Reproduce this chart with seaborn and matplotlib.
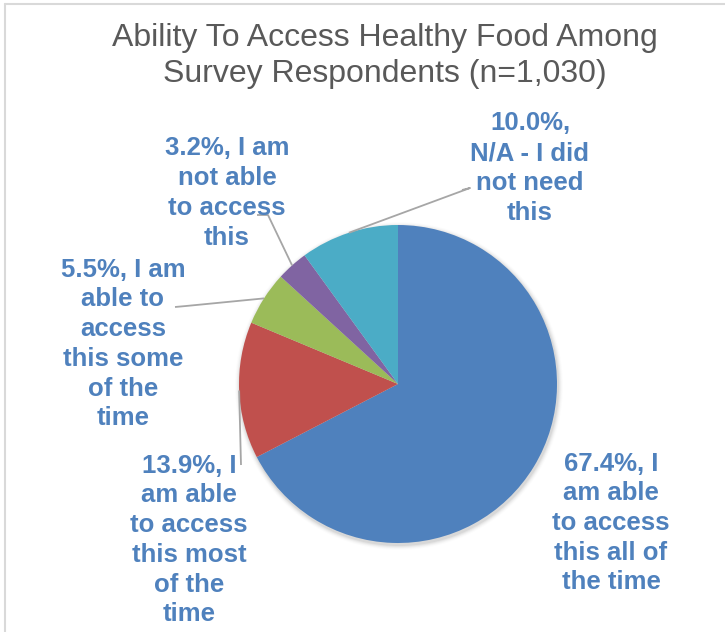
import numpy as np
import matplotlib
matplotlib.use("Agg")
import matplotlib.pyplot as plt
import seaborn as sns

# ---- data ----
categories = [
    "I am able to access this all of the time",
    "I am able to access this most of the time",
    "I am able to access this some of the time",
    "I am not able to access this",
    "N/A - I did not need this",
]
values = [67.4, 13.9, 5.5, 3.2, 10.0]
label_texts = [
    "67.4%, I\nam able\nto access\nthis all of\nthe time",
    "13.9%, I\nam able\nto access\nthis most\nof the\ntime",
    "5.5%, I am\nable to\naccess\nthis some\nof the\ntime",
    "3.2%, I am\nnot able\nto access\nthis",
    "10.0%,\nN/A - I did\nnot need\nthis",
]
title = "Ability To Access Healthy Food Among\nSurvey Respondents (n=1,030)"

# ---- style ----
sns.set_theme(style="white")
plt.rcParams["font.family"] = ["Liberation Sans", "DejaVu Sans"]
colors = ["#4F81BD", "#C0504D", "#9BBB59", "#8064A2", "#4BACC6"]
text_color = "#4F81BD"

W, H = 725, 632
fig = plt.figure(figsize=(W / 100, H / 100), dpi=100)
ax = fig.add_axes([0, 0, 1, 1])
ax.set_xlim(0, W)
ax.set_ylim(0, H)
ax.set_axis_off()

cx, cy, r = 398, H - 384, 159

# soft shadow
for i, a in enumerate(np.linspace(0.05, 0.01, 5)):
    ax.add_patch(plt.Circle((cx + 1, cy - 2), r + 1 + i, color="black", alpha=a, lw=0, zorder=1))

wedges, _ = ax.pie(values, colors=colors, startangle=90, counterclock=False,
                   center=(cx, cy), radius=r, frame=True,
                   wedgeprops=dict(linewidth=0, zorder=2))
ax.set_xlim(0, W)
ax.set_ylim(0, H)
ax.set_axis_off()

# label positions (pixel, from top)
label_pos = [(611, 523), (189, 540), (123, 344), (227, 193), (530, 168)]
for txt, (lx, ly) in zip(label_texts, label_pos):
    ax.text(lx, H - ly, txt, ha="center", va="center", color=text_color,
            fontsize=18.5, fontweight="bold", linespacing=1.3, zorder=5)

# leader lines: start at the wedge edge midpoints, end near labels
leader_ends = {
    1: [(241, 465)],
    2: [(186, 306), (175, 307)],
    3: [(268, 215), (257, 215)],
    4: [(470, 188), (462, 190)],
}
for idx, pts in leader_ends.items():
    w = wedges[idx]
    ang = np.deg2rad((w.theta1 + w.theta2) / 2)
    sx, sy = cx + r * np.cos(ang), cy + r * np.sin(ang)
    xs = [sx] + [p[0] for p in pts]
    ys = [sy] + [H - p[1] for p in pts]
    ax.plot(xs, ys, color="#A6A6A6", lw=1.3, zorder=4, solid_capstyle="butt")

ax.text(385, H - 56, title, ha="center", va="center", color="#595959",
        fontsize=23, linespacing=1.3, zorder=5)

# chart area border
ax.plot([5.5, W], [H - 4, H - 4], color="#D9D9D9", lw=1.5, zorder=6)
ax.plot([5.5, 5.5], [H - 4, 0], color="#D9D9D9", lw=1.5, zorder=6)

fig.savefig("out.png", dpi=100, facecolor="white")
